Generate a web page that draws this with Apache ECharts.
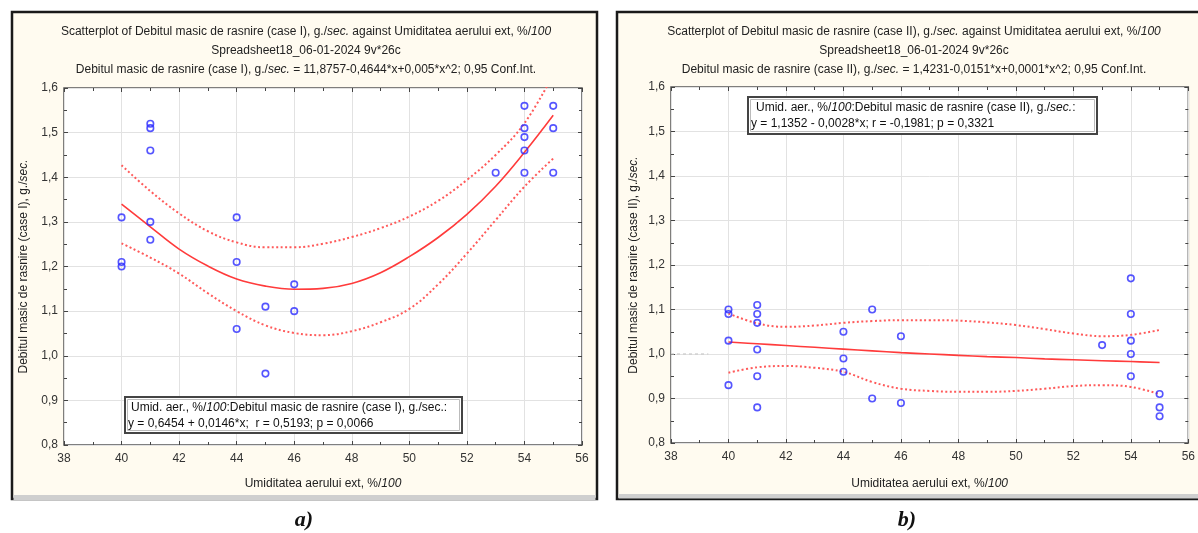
<!DOCTYPE html>
<html>
<head>
<meta charset="utf-8">
<script src="https://cdn.jsdelivr.net/npm/echarts@6/dist/echarts.min.js"></script>
<style>
html,body{margin:0;padding:0;background:#fff;}
#c{width:1198px;height:533px;}
</style>
</head>
<body>
<div id="c"></div>
<script>
// ---- data ----
const xTicks = [38, 40, 42, 44, 46, 48, 50, 52, 54, 56];
const yTicks = [0.8, 0.9, 1.0, 1.1, 1.2, 1.3, 1.4, 1.5, 1.6];

// Case I scatter
const humidityI = [40, 40, 40, 41, 41, 41, 41, 41, 44, 44, 44, 45, 45, 46, 46, 53, 54, 54, 54, 54, 54, 55, 55, 55];
const flowI     = [1.31, 1.21, 1.20, 1.52, 1.51, 1.46, 1.30, 1.26, 1.31, 1.21, 1.06, 1.11, 0.96, 1.16, 1.10, 1.41, 1.56, 1.51, 1.49, 1.46, 1.41, 1.56, 1.51, 1.41];

// Case I fitted curve and 0.95 confidence band (read at each x)
const curveXI   = [40, 41, 42, 43, 44, 45, 46, 47, 48, 49, 50, 51, 52, 53, 54, 55];
const fitI      = [1.340, 1.289, 1.239, 1.201, 1.172, 1.156, 1.149, 1.151, 1.162, 1.186, 1.222, 1.265, 1.317, 1.380, 1.456, 1.539];
const upperI    = [1.427, 1.369, 1.319, 1.279, 1.254, 1.243, 1.243, 1.251, 1.266, 1.286, 1.312, 1.347, 1.394, 1.450, 1.521, 1.630];
const lowerI    = [1.252, 1.220, 1.184, 1.140, 1.100, 1.068, 1.051, 1.046, 1.055, 1.075, 1.105, 1.160, 1.229, 1.304, 1.379, 1.442];

// Case II scatter
const humidityII = [40, 40, 40, 40, 41, 41, 41, 41, 41, 41, 44, 44, 44, 45, 45, 46, 46, 53, 54, 54, 54, 54, 54, 55, 55, 55];
const flowII     = [1.10, 1.09, 1.03, 0.93, 1.11, 1.09, 1.07, 1.01, 0.95, 0.88, 1.05, 0.99, 0.96, 1.10, 0.90, 1.04, 0.89, 1.02, 1.17, 1.09, 1.03, 1.00, 0.95, 0.91, 0.88, 0.86];

// Case II fitted curve and 0.95 confidence band
const curveXII  = [40, 41, 42, 43, 44, 45, 46, 47, 48, 49, 50, 51, 52, 53, 54, 55];
const fitII     = [1.027, 1.023, 1.019, 1.015, 1.011, 1.007, 1.003, 1.000, 0.997, 0.994, 0.992, 0.989, 0.987, 0.985, 0.983, 0.981];
const upperII   = [1.091, 1.069, 1.061, 1.064, 1.070, 1.074, 1.076, 1.076, 1.075, 1.071, 1.065, 1.056, 1.046, 1.040, 1.043, 1.054];
const lowerII   = [0.958, 0.970, 0.973, 0.969, 0.960, 0.937, 0.922, 0.917, 0.915, 0.915, 0.917, 0.922, 0.928, 0.930, 0.926, 0.910];

// faint grey dashed mean stub on panel b
const stubX = [38, 39.3];
const stubY = [1.0, 1.0];

// ---- helpers ----
const zip = (xs, ys) => xs.map((x, i) => [x, ys[i]]);
const FONT = '"Liberation Sans", Arial, sans-serif';
const rich = { i: { fontStyle: 'italic', fontFamily: FONT, fontSize: 12, color: '#222' } };

function xAx(gi, pos, main, nameGap) {
  return {
    type: 'value', gridIndex: gi, position: pos,
    min: 38, max: 56, interval: 2,
    axisLine: { show: false },
    axisTick: { show: true, inside: true, length: 4, lineStyle: { color: '#444', width: 1 } },
    minorTick: { show: true, splitNumber: 2, length: 3, lineStyle: { color: '#444', width: 1 } },
    splitLine: { show: main, lineStyle: { color: '#e2e2e2', width: 1 } },
    axisLabel: { show: main, margin: 8, fontFamily: FONT, fontSize: 12, color: '#333',
      customValues: xTicks, formatter: v => String(v) },
    name: main ? 'Umiditatea aerului ext, %/{i|100}' : '',
    nameLocation: 'middle', nameGap: nameGap,
    nameTextStyle: { fontFamily: FONT, fontSize: 12, color: '#222', rich: rich }
  };
}
function yAx(gi, pos, main, name, nameGap) {
  return {
    type: 'value', gridIndex: gi, position: pos,
    min: 0.8, max: 1.6, interval: 0.1,
    axisLine: { show: false },
    axisTick: { show: true, inside: true, length: 4, lineStyle: { color: '#444', width: 1 } },
    minorTick: { show: true, splitNumber: 2, length: 3, lineStyle: { color: '#444', width: 1 } },
    splitLine: { show: main, lineStyle: { color: '#e2e2e2', width: 1 } },
    axisLabel: { show: main, margin: 6, fontFamily: FONT, fontSize: 12, color: '#333',
      formatter: v => v.toFixed(1).replace('.', ',') },
    name: main ? name : '',
    nameLocation: 'middle', nameGap: nameGap, nameRotate: 90,
    nameTextStyle: { fontFamily: FONT, fontSize: 12, color: '#222', rich: rich }
  };
}
function scatter(xi, yi, xs, ys) {
  return { type: 'scatter', xAxisIndex: xi, yAxisIndex: yi, data: zip(xs, ys),
    symbol: 'circle', symbolSize: 6.5, z: 5,
    itemStyle: { color: 'rgba(0,0,0,0)', borderColor: '#2a2aff', borderWidth: 1.6 } };
}
function curve(xi, yi, xs, ys, dotted) {
  return { type: 'line', xAxisIndex: xi, yAxisIndex: yi, data: zip(xs, ys),
    smooth: 0.4, showSymbol: false, symbol: 'none', clip: true, z: 4,
    lineStyle: dotted ? { color: '#ff5a5a', width: 2, type: [2, 2.5] }
                      : { color: '#ff3b3b', width: 1.6 } };
}

const titleTxt = (cx, y, t) => ({ type: 'text', x: cx, y: y, z: 10,
  style: { text: t, align: 'center', verticalAlign: 'middle', font: '12px ' + FONT, fill: '#222', rich: rich } });
const plainTxt = (x, y, t) => ({ type: 'text', x: x, y: y, z: 10,
  style: { text: t, align: 'left', verticalAlign: 'middle', font: '12px ' + FONT, fill: '#111', rich: { i: { fontStyle: 'italic', fontFamily: FONT, fontSize: 12, color: '#111' } } } });

const chart = echarts.init(document.getElementById('c'), null, { renderer: 'canvas' });
chart.setOption({
  backgroundColor: '#ffffff',
  animation: false,
  grid: [
    { left: 64, top: 88, width: 518, height: 357, show: true, backgroundColor: '#ffffff', borderColor: '#555', borderWidth: 1.5, containLabel: false },
    { left: 671, top: 87, width: 523, height: 356, show: true, backgroundColor: '#ffffff', borderColor: '#555', borderWidth: 1.5, containLabel: false }
  ],
  xAxis: [ xAx(0, 'bottom', true, 33), xAx(0, 'top', false, 0), xAx(1, 'bottom', true, 35), xAx(1, 'top', false, 0) ],
  yAxis: [
    yAx(0, 'left', true, 'Debitul masic de rasnire (case I), g./{i|sec.}', 34),
    yAx(0, 'right', false, '', 0),
    yAx(1, 'left', true, 'Debitul masic de rasnire (case II), g./{i|sec.}', 31),
    yAx(1, 'right', false, '', 0)
  ],
  graphic: [
    // panel frames
    { type: 'rect', z: -10, shape: { x: 12, y: 12, width: 585, height: 487 }, style: { fill: '#fffbf0', stroke: '#1a1a1a', lineWidth: 2.5 } },
    { type: 'rect', z: -9, shape: { x: 13.5, y: 495, width: 582, height: 5 }, style: { fill: '#cfcfcf' } },
    { type: 'rect', z: -10, shape: { x: 617, y: 12, width: 600, height: 487 }, style: { fill: '#fffbf0', stroke: '#1a1a1a', lineWidth: 2.5 } },
    { type: 'rect', z: -9, shape: { x: 618.5, y: 494, width: 590, height: 4.5 }, style: { fill: '#cfcfcf' } },
    // titles panel a
    titleTxt(306, 32, 'Scatterplot of Debitul masic de rasnire (case I), g./{i|sec.} against Umiditatea aerului ext, %/{i|100}'),
    titleTxt(306, 51, 'Spreadsheet18_06-01-2024 9v*26c'),
    titleTxt(306, 70, 'Debitul masic de rasnire (case I), g./{i|sec.} = 11,8757-0,4644*x+0,005*x^2; 0,95 Conf.Int.'),
    // titles panel b
    titleTxt(914, 32, 'Scatterplot of Debitul masic de rasnire (case II), g./{i|sec.} against Umiditatea aerului ext, %/{i|100}'),
    titleTxt(914, 51, 'Spreadsheet18_06-01-2024 9v*26c'),
    titleTxt(914, 70, 'Debitul masic de rasnire (case II), g./{i|sec.} = 1,4231-0,0151*x+0,0001*x^2; 0,95 Conf.Int.'),
    // regression boxes
    { type: 'rect', z: 8, shape: { x: 125, y: 397, width: 337, height: 36 }, style: { fill: '#ffffff', stroke: '#444', lineWidth: 2 } },
    { type: 'rect', z: 8, shape: { x: 127.5, y: 399.5, width: 332, height: 31 }, style: { fill: 'none', stroke: '#bbb', lineWidth: 1 } },
    plainTxt(131, 408, 'Umid. aer., %/{i|100}:Debitul masic de rasnire (case I), g./sec.:'),
    plainTxt(128, 424, 'y = 0,6454 + 0,0146*x;  r = 0,5193; p = 0,0066'),
    { type: 'rect', z: 8, shape: { x: 748, y: 97, width: 349, height: 37 }, style: { fill: '#ffffff', stroke: '#444', lineWidth: 2 } },
    { type: 'rect', z: 8, shape: { x: 750.5, y: 99.5, width: 344, height: 32 }, style: { fill: 'none', stroke: '#bbb', lineWidth: 1 } },
    plainTxt(756, 108, 'Umid. aer., %/{i|100}:Debitul masic de rasnire (case II), g./{i|sec.}:'),
    plainTxt(751, 124, 'y = 1,1352 - 0,0028*x; r = -0,1981; p = 0,3321'),
    // panel captions
    { type: 'text', x: 304, y: 520, style: { text: 'a)', align: 'center', verticalAlign: 'middle', font: 'italic bold 22px "Liberation Serif", "Times New Roman", serif', fill: '#111' } },
    { type: 'text', x: 907, y: 520, style: { text: 'b)', align: 'center', verticalAlign: 'middle', font: 'italic bold 22px "Liberation Serif", "Times New Roman", serif', fill: '#111' } }
  ],
  series: [
    curve(0, 0, curveXI, upperI, true),
    curve(0, 0, curveXI, lowerI, true),
    curve(0, 0, curveXI, fitI, false),
    scatter(0, 0, humidityI, flowI),
    { type: 'line', xAxisIndex: 2, yAxisIndex: 2, data: zip(stubX, stubY), showSymbol: false, symbol: 'none', z: 3,
      lineStyle: { color: '#c8c8c8', width: 1.2, type: [3, 3] } },
    curve(2, 2, curveXII, upperII, true),
    curve(2, 2, curveXII, lowerII, true),
    curve(2, 2, curveXII, fitII, false),
    scatter(2, 2, humidityII, flowII)
  ]
});
</script>
</body>
</html>
